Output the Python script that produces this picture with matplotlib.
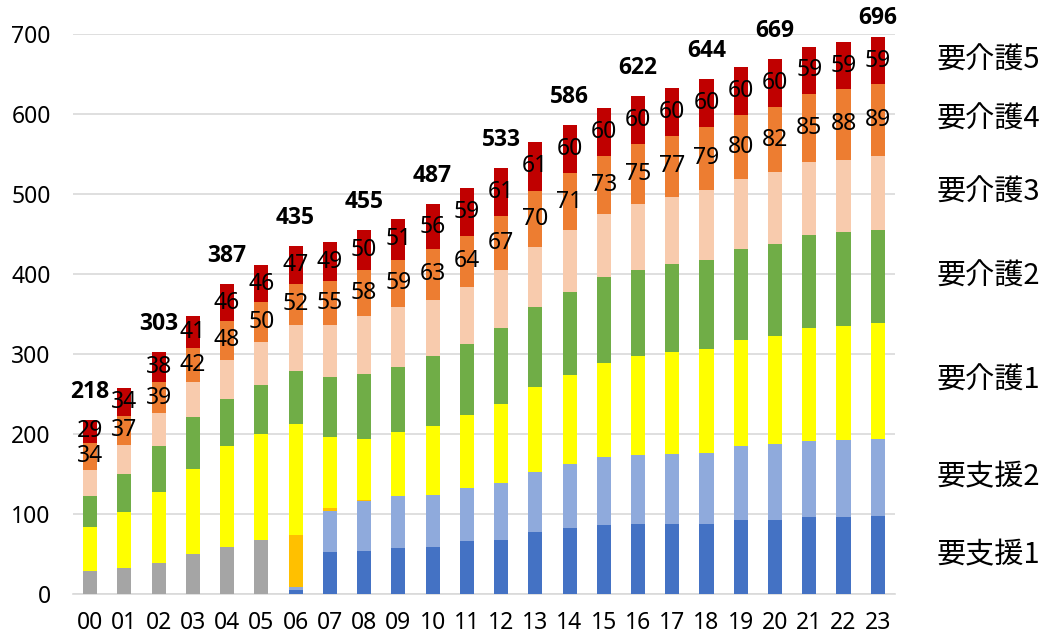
import numpy as np
import matplotlib
matplotlib.use("Agg")
import matplotlib.pyplot as plt

plt.rcParams['font.family'] = ['Noto Sans', 'Noto Sans CJK JP']

years = ["00", "01", "02", "03", "04", "05", "06", "07", "08", "09", "10", "11",
         "12", "13", "14", "15", "16", "17", "18", "19", "20", "21", "22", "23"]

# 万人
youshien = [29, 32, 39, 50, 59, 67] + [0] * 18
shien1 = [0] * 6 + [5, 52, 54, 57, 59, 66, 68, 77, 82, 86, 88, 88, 87, 92, 93, 96, 96, 97]
shien2 = [0] * 6 + [4, 52, 62, 66, 65, 67, 71, 76, 80, 85, 86, 87, 89, 93, 94, 95, 96, 97]
keika = [0] * 6 + [65, 3, 1] + [0] * 15
kaigo1 = [55, 70, 89, 106, 126, 133, 139, 89, 77, 79, 86, 91, 98, 106, 112, 118,
          123, 128, 130, 133, 136, 141, 143, 145]
kaigo2 = [39, 48, 57, 65, 59, 61, 66, 75, 81, 82, 87, 89, 96, 100, 103, 107,
          108, 110, 112, 113, 115, 117, 117, 116]
kaigo3 = [32, 36, 41, 44, 49, 54, 57, 65, 72, 75, 71, 71, 72, 75, 78, 79,
          82, 83, 87, 88, 89, 91, 91, 93]
kaigo4 = [34, 37, 39, 42, 48, 50, 52, 55, 58, 59, 63, 64, 67, 70, 71, 73,
          75, 77, 79, 80, 82, 85, 88, 89]
kaigo5 = [29, 34, 38, 41, 46, 46, 47, 49, 50, 51, 56, 59, 61, 61, 60, 60,
          60, 60, 60, 60, 60, 59, 59, 59]

total_label_idx = [0, 2, 4, 6, 8, 10, 12, 14, 16, 18, 20, 23]

series = [
    ("要支援", youshien, "#A5A5A5"),
    ("要支援1", shien1, "#4472C4"),
    ("要支援2", shien2, "#8FAADC"),
    ("経過的要介護", keika, "#FFC000"),
    ("要介護1", kaigo1, "#FFFF00"),
    ("要介護2", kaigo2, "#70AD47"),
    ("要介護3", kaigo3, "#F8CBAD"),
    ("要介護4", kaigo4, "#ED7D31"),
    ("要介護5", kaigo5, "#C00000"),
]

fig = plt.figure(figsize=(10.47, 6.40), dpi=100)
ax = fig.add_axes([0.0697, 0.072, 0.785, 0.875])

x = np.arange(len(years))
bottom = np.zeros(len(years))
bars = {}
for name, vals, col in series:
    vals = np.array(vals, dtype=float)
    bars[name] = ax.bar(x, vals, 0.41, bottom=bottom, color=col, zorder=3)
    bottom += vals
totals = bottom

# labels for 要介護4 / 要介護5
for name in ["要介護4", "要介護5"]:
    ax.bar_label(bars[name], labels=[str(int(v)) for v in bars[name].datavalues],
                 label_type="center", fontsize=16.5, color="black", zorder=5)

# totals above every other bar; kept inside the figure at the top
for i in total_label_idx:
    ypos = min(totals[i] + 35, 720)
    ax.text(x[i], ypos, str(int(totals[i])), ha="center", va="center",
            fontsize=16.5, fontweight="bold", clip_on=False,
            family=['Open Sans', 'DejaVu Sans'])

# category names to the right of the last bar
last = len(years) - 1
right_names = ["要支援1", "要支援2", "要介護1", "要介護2", "要介護3", "要介護4", "要介護5"]
cum = 0
segs = {}
for name, vals, col in series:
    segs[name] = (cum, cum + vals[last])
    cum += vals[last]
for name in right_names:
    lo, hi = segs[name]
    ax.text(1.114, (lo + hi) / 2, name, transform=ax.get_yaxis_transform(),
            ha="center", va="center", fontsize=21, clip_on=False,
            family=['Noto Sans CJK JP', 'DejaVu Sans'])

ax.set_xlim(-0.5, len(years) - 0.5)
ax.set_ylim(0, 700)
ax.set_yticks(np.arange(0, 701, 100))
ax.set_xticks(x)
ax.set_xticklabels(years)
ax.tick_params(axis="both", length=0, labelsize=16.5)
ax.tick_params(axis="y", pad=16)
ax.tick_params(axis="x", pad=12)
ax.yaxis.grid(True, color="#D9D9D9", linewidth=1.2, zorder=0)
for s in ["top", "right", "left"]:
    ax.spines[s].set_visible(False)
ax.spines["bottom"].set_color("#D9D9D9")
ax.spines["bottom"].set_linewidth(1.2)

plt.savefig("out.png", dpi=100)
